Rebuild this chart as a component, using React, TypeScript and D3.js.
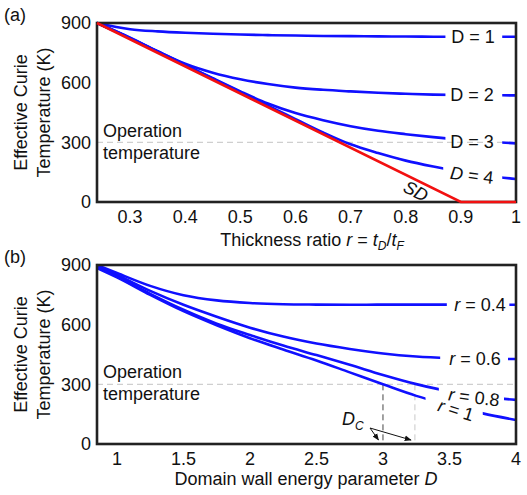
import React from "react";
import * as d3 from "d3";

// ---- data -------------------------------------------------------------
const tempTicks = [0, 300, 600, 900];
const thicknessTicks = [0.3, 0.4, 0.5, 0.6, 0.7, 0.8, 0.9, 1];
const energyTicks = [1, 1.5, 2, 2.5, 3, 3.5, 4];
const operationTemp = 300;

// Panel (a): effective Curie temperature vs thickness ratio r
const rGrid = [0.24, 0.3, 0.35, 0.4, 0.45, 0.5, 0.55, 0.6, 0.65, 0.7, 0.75, 0.8, 0.85, 0.9, 0.95, 1];
const tcD1 = [900, 869, 858, 851, 846, 842, 839, 837, 835, 834, 833, 832, 831, 831, 831, 831];
const tcD2 = [900, 826, 758, 695, 650, 617, 593, 575, 564, 556, 549, 544, 540, 538, 537, 536];
const tcD3 = [900, 824, 757, 690, 622, 556, 495, 447, 411, 381, 358, 341, 326, 313, 303, 295];
const tcD4 = [900, 824, 756, 688, 620, 552, 484, 417, 350, 290, 246, 208, 178, 152, 131, 116];
const sdR = [0.24, 0.9, 1];
const sdTc = [900, 0, 0];

// Panel (b): effective Curie temperature vs domain wall energy parameter D
const dGrid = [0.85, 1, 1.25, 1.5, 1.75, 2, 2.25, 2.5, 2.75, 3, 3.25, 3.5, 3.75, 4];
const tcR04 = [900, 860, 795, 748, 722, 709, 703, 701, 700, 701, 701, 701, 700, 700];
const tcR06 = [895, 850, 770, 700, 640, 585, 540, 505, 478, 455, 440, 432, 428, 427];
const tcR08 = [890, 842, 755, 675, 605, 548, 495, 447, 398, 347, 301, 264, 238, 222];
const tcR1 = [885, 838, 750, 668, 597, 532, 475, 420, 360, 300, 242, 197, 154, 121];
const criticalD = [3.0, 3.24];

// ---- layout -----------------------------------------------------------
const W = 527;
const H = 495;
const FONT = "'Liberation Sans', Arial, Helvetica, sans-serif";
const FS = 18;
const BLUE = "#1010ff";
const RED = "#f21010";
const FRAME = "#222";

const xA = d3.scaleLinear().domain([0.24, 1]).range([97, 516]);
const yA = d3.scaleLinear().domain([0, 900]).range([202, 23]);
const xB = d3.scaleLinear().domain([0.85, 4]).range([97, 516]);
const yB = d3.scaleLinear().domain([0, 900]).range([444, 265]);

type Series = { id: string; xs: number[]; ys: number[]; gap: [number, number] };

const seriesA: Series[] = [
  { id: "d1", xs: rGrid, ys: tcD1, gap: [0.872, 0.975] },
  { id: "d2", xs: rGrid, ys: tcD2, gap: [0.872, 0.975] },
  { id: "d3", xs: rGrid, ys: tcD3, gap: [0.872, 0.975] },
  { id: "d4", xs: rGrid, ys: tcD4, gap: [0.868, 0.975] },
];
const seriesB: Series[] = [
  { id: "r04", xs: dGrid, ys: tcR04, gap: [3.48, 3.95] },
  { id: "r06", xs: dGrid, ys: tcR06, gap: [3.43, 3.94] },
  { id: "r08", xs: dGrid, ys: tcR08, gap: [3.42, 3.91] },
  { id: "r1", xs: dGrid, ys: tcR1, gap: [3.32, 3.75] },
];

function curvePath(xs: number[], ys: number[], x: d3.ScaleLinear<number, number>, y: d3.ScaleLinear<number, number>) {
  const pts = xs.map((v, i) => [v, ys[i]] as [number, number]);
  return d3
    .line<[number, number]>()
    .x((d) => x(d[0]))
    .y((d) => y(d[1]))
    .curve(d3.curveMonotoneX)(pts) as string;
}

function GappedCurves({
  series,
  x,
  y,
  prefix,
}: {
  series: Series[];
  x: d3.ScaleLinear<number, number>;
  y: d3.ScaleLinear<number, number>;
  prefix: string;
}) {
  const [x0, x1] = x.range();
  const [yb, yt] = y.range();
  return (
    <g>
      <defs>
        {series.map((s) => (
          <clipPath id={`${prefix}-${s.id}`} key={s.id}>
            <rect x={x0 - 4} y={yt - 6} width={x(s.gap[0]) - x0 + 4} height={yb - yt + 12} />
            <rect x={x(s.gap[1])} y={yt - 6} width={x1 - x(s.gap[1]) + 4} height={yb - yt + 12} />
          </clipPath>
        ))}
      </defs>
      {series.map((s) => (
        <path
          key={s.id}
          d={curvePath(s.xs, s.ys, x, y)}
          fill="none"
          stroke={BLUE}
          strokeWidth={2.6}
          clipPath={`url(#${prefix}-${s.id})`}
        />
      ))}
    </g>
  );
}

function Frame({ x, y }: { x: d3.ScaleLinear<number, number>; y: d3.ScaleLinear<number, number> }) {
  const [x0, x1] = x.range();
  const [yb, yt] = y.range();
  return <rect x={x0} y={yt} width={x1 - x0} height={yb - yt} fill="none" stroke={FRAME} strokeWidth={2.6} />;
}

function YAxis({ y }: { y: d3.ScaleLinear<number, number> }) {
  const [yb, yt] = y.range();
  const cy = (yb + yt) / 2;
  return (
    <g>
      {tempTicks.map((t) => (
        <text key={t} x={91} y={y(t)} dy="0.36em" textAnchor="end">
          {t}
        </text>
      ))}
      <text transform={`translate(27,${cy}) rotate(-90)`} textAnchor="middle">
        Effective Curie
      </text>
      <text transform={`translate(50,${cy}) rotate(-90)`} textAnchor="middle">
        Temperature (K)
      </text>
    </g>
  );
}

function OperationLine({ x, y, textY }: { x: d3.ScaleLinear<number, number>; y: d3.ScaleLinear<number, number>; textY: number }) {
  const [x0, x1] = x.range();
  return (
    <g>
      <line x1={x0} x2={x1} y1={y(operationTemp)} y2={y(operationTemp)} stroke="#cfcfcf" strokeWidth={1.2} strokeDasharray="6 4" />
      <text x={x0 + 6} y={textY}>Operation</text>
      <text x={x0 + 6} y={textY + 22}>temperature</text>
    </g>
  );
}

export default function App() {
  const fmtA = (v: number) => (v === 1 ? "1" : v.toFixed(1));
  const fmtB = (v: number) => `${v}`;
  const [dc1, dc2] = criticalD;

  return (
    <svg
      width={W}
      height={H}
      viewBox={`0 0 ${W} ${H}`}
      style={{ position: "absolute", left: 0, top: 0, background: "#fff" }}
      fontFamily={FONT}
      fontSize={FS}
      fill="#111"
    >
      <defs>
        <marker id="arrowhead" viewBox="0 0 10 10" refX="9" refY="5" markerWidth="7" markerHeight="7" orient="auto-start-reverse">
          <path d="M0,1 L10,5 L0,9 Z" fill="#111" />
        </marker>
      </defs>
      <rect width={W} height={H} fill="#fff" />

      {/* ---------- panel (a) ---------- */}
      <text x={4} y={21}>(a)</text>
      <OperationLine x={xA} y={yA} textY={136.5} />
      <GappedCurves series={seriesA} x={xA} y={yA} prefix="clipA" />
      <Frame x={xA} y={yA} />
      <path
        d={d3
          .line<number>()
          .x((d) => xA(d))
          .y((_, i) => yA(sdTc[i]))(sdR) as string}
        fill="none"
        stroke={RED}
        strokeWidth={2.6}
      />
      <YAxis y={yA} />
      {thicknessTicks.map((t) => (
        <text key={t} x={xA(t)} y={223} textAnchor="middle">
          {fmtA(t)}
        </text>
      ))}
      <text x={312} y={246} textAnchor="middle">
        Thickness ratio <tspan fontStyle="italic">r</tspan> = <tspan fontStyle="italic">t</tspan>
        <tspan fontStyle="italic" fontSize={12} dy={4}>D</tspan>
        <tspan dy={-4}>/</tspan>
        <tspan fontStyle="italic">t</tspan>
        <tspan fontStyle="italic" fontSize={12} dy={4}>F</tspan>
      </text>
      <text x={473} y={yA(831)} dy="0.36em" textAnchor="middle">D = 1</text>
      <text x={472} y={yA(538)} dy="0.36em" textAnchor="middle">D = 2</text>
      <text x={472} y={yA(305)} dy="0.36em" textAnchor="middle">D = 3</text>
      <text transform="translate(472,175) rotate(7)" dy="0.36em" textAnchor="middle">
        <tspan fontStyle="italic">D</tspan> = 4
      </text>
      <text transform="translate(416,191) rotate(27)" dy="0.36em" textAnchor="middle" fontStyle="italic">
        SD
      </text>

      {/* ---------- panel (b) ---------- */}
      <text x={4} y={263}>(b)</text>
      <OperationLine x={xB} y={yB} textY={378} />
      <line x1={xB(dc1)} x2={xB(dc1)} y1={yB(operationTemp)} y2={yB(0)} stroke="#444" strokeWidth={1} strokeDasharray="6 4" />
      <line x1={xB(dc2)} x2={xB(dc2)} y1={yB(operationTemp)} y2={yB(0)} stroke="#c8c8c8" strokeWidth={1} strokeDasharray="6 4" />
      <GappedCurves series={seriesB} x={xB} y={yB} prefix="clipB" />
      <Frame x={xB} y={yB} />
      <YAxis y={yB} />
      {energyTicks.map((t) => (
        <text key={t} x={xB(t)} y={465} textAnchor="middle">
          {fmtB(t)}
        </text>
      ))}
      <text x={306} y={485} textAnchor="middle">
        Domain wall energy parameter <tspan fontStyle="italic">D</tspan>
      </text>
      <text x={480} y={yB(700)} dy="0.36em" textAnchor="middle">
        <tspan fontStyle="italic">r</tspan> = 0.4
      </text>
      <text x={475} y={yB(428)} dy="0.36em" textAnchor="middle">
        <tspan fontStyle="italic">r</tspan> = 0.6
      </text>
      <text transform="translate(474,397) rotate(7)" dy="0.36em" textAnchor="middle">
        <tspan fontStyle="italic">r</tspan> = 0.8
      </text>
      <text transform="translate(456,410) rotate(17)" dy="0.36em" textAnchor="middle">
        <tspan fontStyle="italic">r</tspan> = 1
      </text>

      {/* critical domain wall parameter annotation */}
      <text x={342} y={425} fontStyle="italic">
        D<tspan fontSize={12} dy={5}>C</tspan>
      </text>
      <line x1={370} y1={428} x2={378.5} y2={440} stroke="#111" strokeWidth={1} markerEnd="url(#arrowhead)" />
      <line x1={370} y1={428} x2={411} y2={440} stroke="#111" strokeWidth={1} markerEnd="url(#arrowhead)" />
    </svg>
  );
}
